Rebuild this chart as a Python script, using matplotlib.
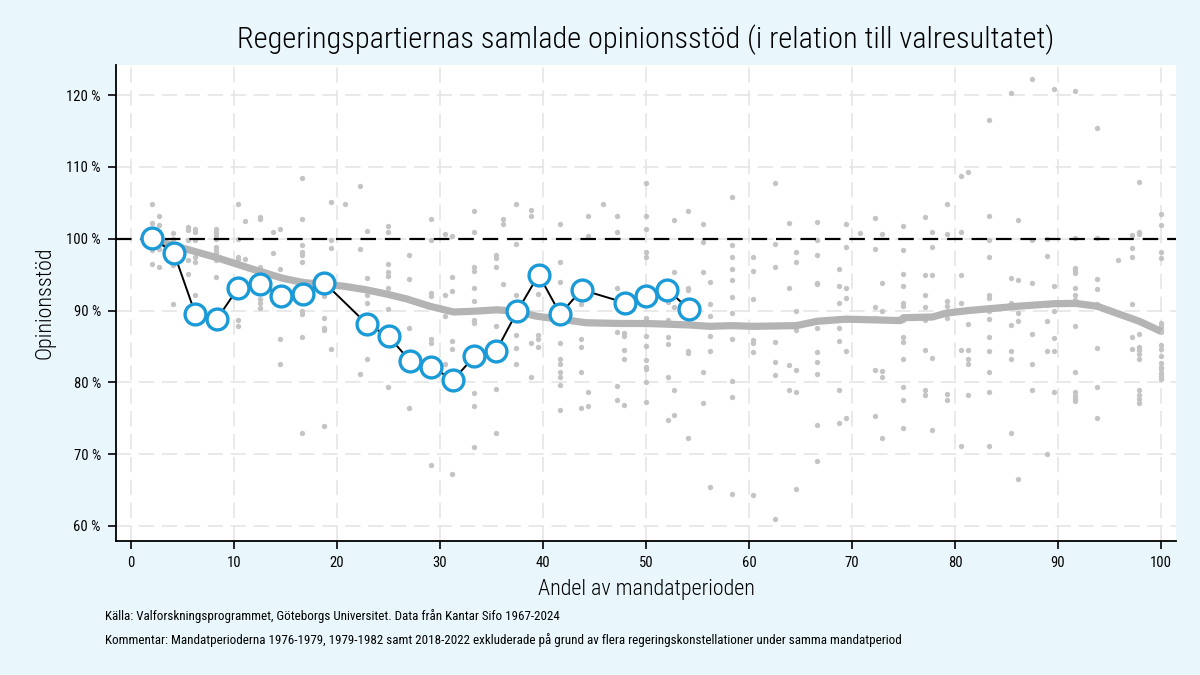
import matplotlib
matplotlib.use("Agg")
import matplotlib.pyplot as plt
from matplotlib import font_manager

# smalt typsnitt om det finns, annars vanligt
installed = {f.name for f in font_manager.fontManager.ttflist}
narrow = "Liberation Sans"
for name in ["Roboto Condensed", "Liberation Sans Narrow", "DejaVu Sans Condensed"]:
    if name in installed:
        narrow = name
        break
plt.rcParams["font.family"] = [narrow, "DejaVu Sans"]

# regeringens opinionsstöd (blå ringar), andel av mandatperioden i procent
blue_x = [2.08, 4.17, 6.25, 8.33, 10.42, 12.5, 14.58, 16.67, 18.75, 22.92, 25.0, 27.08,
          29.17, 31.25, 33.33, 35.42, 37.5, 39.58, 41.67, 43.75, 47.92, 50.0, 52.08, 54.17]
blue_y = [100.1, 98.0, 89.5, 88.8, 93.2, 93.7, 92.0, 92.3, 93.9, 88.1, 86.4, 83.0,
          82.2, 80.3, 83.6, 84.3, 89.9, 95.0, 89.5, 92.9, 91.1, 92.0, 92.9, 90.2]

# utjämnad kurva över alla mandatperioder
smooth_x = [2.08, 2.75, 5.0, 8.25, 11.5, 14.7, 16.7, 20.6, 22.8, 24.8, 26.8, 29.0, 31.3,
            33.2, 35.5, 37.4, 39.4, 41.65, 44.2, 47.5, 50.0, 54.1, 56.2, 58.3, 60.4, 64.6,
            66.6, 69.4, 72.2, 74.7, 75.0, 77.8, 79.2, 81.3, 83.3, 86.1, 89.6, 91.7, 93.8,
            97.9, 100.0]
smooth_y = [100.0, 99.6, 98.7, 97.4, 95.9, 94.5, 93.9, 93.4, 92.9, 92.3, 91.6, 90.6, 89.8,
            89.9, 90.1, 89.9, 89.2, 88.8, 88.3, 88.2, 88.2, 88.0, 87.8, 87.9, 87.8, 87.9,
            88.5, 88.8, 88.7, 88.6, 89.0, 89.1, 89.65, 90.0, 90.25, 90.6, 90.95, 91.0, 90.6,
            88.5, 87.1]

# enskilda mätningar (grå punkter), en lista per tidpunkt
dot_x = [2.0, 2.7, 4.1, 5.5, 6.2, 8.25, 10.4, 11.1, 12.5, 13.8, 14.5, 16.6, 18.7, 19.4,
         20.8, 22.2, 22.9, 24.95, 27.0, 29.1, 30.5, 31.2, 33.3, 35.4, 36.1, 37.4, 38.8,
         39.5, 41.65, 43.7, 44.4, 45.8, 47.2, 47.9, 50.0, 52.1, 52.75, 54.1, 55.5, 56.2,
         58.3, 60.4, 62.5, 63.9, 64.6, 66.6, 68.7, 69.4, 70.8, 72.2, 72.9, 75.0, 77.1,
         77.8, 79.2, 80.6, 81.3, 83.3, 85.4, 86.1, 87.5, 88.9, 89.6, 91.7, 93.8, 95.8,
         97.2, 97.9, 100.0]
dot_y = [
    [104.8, 102.2, 98.4, 96.5],
    [103.2, 101.9, 98.6, 96.1],
    [100.8, 99.9, 96.4, 90.9],
    [101.6, 101.2, 99.8, 97.1, 95.1],
    [101.3, 101.0, 99.8, 97.5, 96.7, 92.1],
    [101.4, 101.0, 100.5, 99.9, 98.8, 98.5, 98.0, 97.5, 97.1, 94.7],
    [104.8, 99.9, 97.5, 97.2, 88.7, 87.9],
    [102.5, 97.2],
    [103.0, 102.7, 96.1, 91.6, 91.1, 90.4],
    [100.9, 98.0, 95.0],
    [101.4, 95.8, 86.1, 82.6],
    [108.5, 102.8, 99.1, 98.1, 97.7, 96.8, 94.1, 90.0, 89.5, 86.3, 72.9],
    [92.0, 88.9, 87.6, 87.3, 73.9],
    [105.1, 99.8, 98.7, 84.7],
    [104.8],
    [107.4, 98.6, 81.1],
    [101.1, 94.5, 92.2, 91.0, 83.2],
    [101.8, 100.9, 96.5, 95.3, 94.8, 93.1, 90.2, 79.4],
    [97.7, 94.4, 87.6, 76.4],
    [102.7, 99.8, 92.4, 92.0, 90.6, 86.0, 85.5, 68.5],
    [100.7, 92.1, 89.3, 82.6],
    [100.4, 94.7, 92.7, 85.7, 84.7, 67.2],
    [103.9, 100.9, 96.1, 95.5, 93.1, 91.3, 88.7, 88.2, 78.5, 76.7, 71.0],
    [97.8, 97.3, 96.1, 87.8, 79.1, 72.9],
    [102.8, 102.0, 93.7],
    [104.8, 99.3, 92.1, 86.6, 84.8, 82.5],
    [104.0, 103.2, 85.5, 80.7],
    [92.3, 86.6, 86.0, 84.9],
    [102.1, 96.8, 94.0, 85.5, 83.2, 82.6, 81.5, 80.7, 79.6, 76.1],
    [90.9, 86.0, 84.9, 81.4, 76.4],
    [103.2, 100.4, 78.7, 76.7],
    [104.8],
    [103.2, 100.9, 93.2, 87.0, 79.5, 77.6],
    [86.9, 86.5, 84.5, 83.3, 76.8],
    [107.8, 103.2, 101.3, 98.2, 97.5, 89.0, 86.4, 85.0, 83.1, 82.2, 81.8, 80.0, 77.3],
    [91.2, 88.7, 86.3, 85.4, 80.7, 74.8],
    [102.6, 95.4, 90.5, 79.0, 75.4],
    [103.8, 93.2, 92.8, 84.4, 84.1, 72.2],
    [102.0, 99.6, 95.4, 81.5, 77.1],
    [94.0, 90.9, 89.2, 86.5, 84.4, 65.4],
    [105.8, 99.1, 97.5, 95.8, 94.3, 91.9, 89.7, 87.8, 86.0, 80.2, 78.0, 64.5],
    [97.5, 95.5, 91.6, 85.9, 85.5, 84.2, 64.3],
    [107.8, 99.2, 96.0, 87.8, 85.6, 82.9, 81.0, 61.0],
    [102.2, 93.2, 82.4, 78.9],
    [98.1, 96.7, 89.9, 87.3, 81.7, 78.6, 65.1],
    [102.4, 99.8, 97.8, 93.8, 93.7, 88.7, 87.5, 84.2, 82.8, 81.2, 74.1, 69.1],
    [95.8, 93.4, 91.0, 89.0, 87.5, 85.8, 78.9, 74.4],
    [102.0, 98.8, 93.2, 91.7, 88.7, 84.3, 75.0],
    [100.8],
    [102.9, 98.6, 90.5, 89.0, 81.7, 75.3],
    [100.6, 93.8, 90.0, 81.6, 80.7, 72.2],
    [101.8, 98.5, 95.1, 93.4, 91.0, 90.7, 88.7, 86.3, 85.6, 83.2, 79.3, 77.5, 73.7],
    [103.0, 95.0, 92.1, 90.5, 88.7, 84.5, 79.0, 78.3],
    [100.9, 98.8, 95.0, 89.2, 83.4, 73.3],
    [104.9, 100.7, 91.3, 90.7, 89.8, 89.0, 78.4, 77.6],
    [108.7, 100.9, 95.0, 91.0, 84.5, 71.1],
    [109.3, 88.1, 84.5, 83.3, 82.5, 78.3],
    [116.5, 103.1, 99.8, 97.5, 92.2, 91.8, 89.9, 88.8, 86.3, 84.4, 81.4, 78.7, 71.1],
    [120.3, 94.6, 91.0, 88.0, 84.4, 83.3, 72.9],
    [102.6, 94.3, 90.7, 89.6, 88.5, 66.5],
    [122.2, 99.8, 93.8, 90.8, 86.7, 82.5, 78.9],
    [99.9, 97.6, 90.8, 88.5, 84.4, 70.0],
    [120.8, 93.4, 91.1, 89.9, 86.2, 84.3, 78.6],
    [120.6, 100.1, 95.9, 95.6, 95.2, 93.1, 92.1, 91.5, 90.9, 87.9, 81.4, 78.7, 78.1, 77.7, 77.4],
    [115.4, 100.1, 94.4, 93.0, 90.9, 84.8, 79.4, 75.0],
    [97.0],
    [100.5, 98.7, 97.5, 90.9, 86.3, 84.6],
    [107.9, 100.9, 100.6, 86.7, 84.9, 84.5, 83.9, 83.3, 78.9, 78.2, 77.7, 77.1],
    [103.5, 101.9, 98.1, 97.3, 88.3, 87.8, 87.4, 87.0, 85.2, 84.6, 83.7, 82.7, 82.2,
     81.8, 81.3, 80.9, 80.4],
]

y_ticks = [60, 70, 80, 90, 100, 110, 120]
x_ticks = [0, 10, 20, 30, 40, 50, 60, 70, 80, 90, 100]

bg = "#e9f6fc"
fig = plt.figure(figsize=(12, 6.75), dpi=100, facecolor=bg)
ax = fig.add_axes([0.0967, 0.1985, 0.8833, 0.7052])
ax.set_facecolor("white")

# grå punkter
px, py = [], []
for x, ys in zip(dot_x, dot_y):
    for y in ys:
        px.append(x)
        py.append(y)
ax.scatter(px, py, s=15, color="#c4c4c4", linewidths=0, zorder=2)

ax.plot(smooth_x, smooth_y, color="#b4b4b4", linewidth=5.2, solid_capstyle="butt", zorder=3)
ax.axhline(100, color="black", linewidth=1.6, dashes=(7, 4), zorder=4)
ax.plot(blue_x, blue_y, color="black", linewidth=1.4, marker="o", markersize=15,
        markerfacecolor="white", markeredgecolor="#1a9ad6", markeredgewidth=2.4, zorder=5)

ax.set_xlim(-1.46, 101.46)
ax.set_ylim(57.9, 124.2)
ax.set_xticks(x_ticks)
ax.set_yticks(y_ticks)
ax.set_yticklabels([f"{v} %" for v in y_ticks])
ax.tick_params(axis="both", direction="out", length=6, width=1.2, labelsize=10.5, pad=5)
ax.grid(True, color="#e3e3e3", linewidth=1.1, dashes=(10, 5), zorder=0)
ax.set_axisbelow(True)

for side in ["top", "right"]:
    ax.spines[side].set_visible(False)
for side in ["left", "bottom"]:
    ax.spines[side].set_linewidth(1.3)

ax.set_title("Regeringspartiernas samlade opinionsstöd (i relation till valresultatet)",
             fontsize=21.9, fontweight="light", pad=12)
ax.set_xlabel("Andel av mandatperioden", fontsize=15.8, fontweight="light", labelpad=6)
ax.set_ylabel("Opinionsstöd", fontsize=15.8, fontweight="light", labelpad=8)

fig.text(105 / 1200, 1 - 616 / 675, "Källa: Valforskningsprogrammet, Göteborgs Universitet. "
         "Data från Kantar Sifo 1967-2024", fontsize=9.4, va="center")
fig.text(105 / 1200, 1 - 640 / 675, "Kommentar: Mandatperioderna 1976-1979, 1979-1982 samt "
         "2018-2022 exkluderade på grund av flera regeringskonstellationer under samma mandatperiod",
         fontsize=9.4, va="center")

fig.savefig("out.png", dpi=100, facecolor=bg)
